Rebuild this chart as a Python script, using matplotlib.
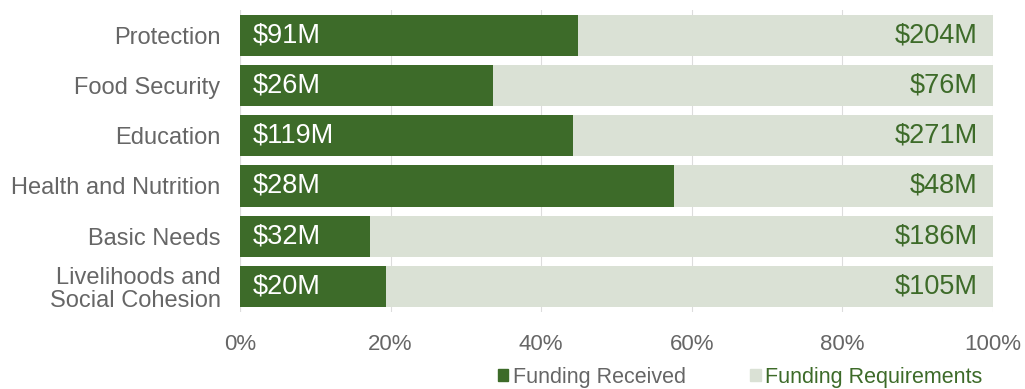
import numpy as np
import matplotlib.pyplot as plt

plt.rcParams['font.family'] = ['Liberation Sans', 'DejaVu Sans']

# data
sectors = ['Protection', 'Food Security', 'Education', 'Health and Nutrition',
           'Basic Needs', 'Livelihoods and\nSocial Cohesion']
received = ['$91M', '$26M', '$119M', '$28M', '$32M', '$20M']
requirements = ['$204M', '$76M', '$271M', '$48M', '$186M', '$105M']
funded_pct = [44.9, 33.6, 44.2, 57.6, 17.3, 19.4]
ticks = [0, 20, 40, 60, 80, 100]

dark = '#3d6b29'
light = '#dae1d5'
grey = '#666666'

fig = plt.figure(figsize=(10.25, 3.89), dpi=100)
ax = fig.add_axes([240/1025, 1 - 312/389, 753/1025, 302/389])

y = np.arange(len(sectors))
ax.barh(y, [100]*len(sectors), height=0.82, color=light, zorder=2)
ax.barh(y, funded_pct, height=0.82, color=dark, zorder=3)

for i in range(len(sectors)):
    ax.text(1.7, y[i], received[i], color='white', va='center', ha='left',
            fontsize=19.5, zorder=4)
    ax.text(98, y[i], requirements[i], color=dark, va='center', ha='right',
            fontsize=19.5, zorder=4)

ax.set_xlim(0, 100)
ax.set_ylim(5.508, -0.5)
ax.set_yticks(y)
ax.set_yticklabels(sectors, fontsize=17, color=grey, linespacing=1.08)
ax.set_xticks(ticks)
ax.set_xticklabels([f'{t}%' for t in ticks], fontsize=16, color=grey)
ax.tick_params(length=0)
ax.tick_params(axis='y', pad=14)
ax.tick_params(axis='x', pad=16)
ax.grid(axis='x', color='#dddddd', linewidth=0.8, zorder=1)
ax.axvline(0, color='#dddddd', linewidth=0.8, zorder=1)
for s in ax.spines.values():
    s.set_visible(False)

leg = fig.legend(handles=[plt.Rectangle((0, 0), 1, 1, color=dark),
                          plt.Rectangle((0, 0), 1, 1, color=light)],
                 labels=['Funding Received', 'Funding Requirements'],
                 loc='center', bbox_to_anchor=(740/1025, 1 - 377/389), ncol=2,
                 frameon=False, fontsize=15.5, handlelength=0.5, handleheight=0.5,
                 handletextpad=0.2, borderpad=0, columnspacing=3.0)
leg.get_texts()[0].set_color(grey)
leg.get_texts()[1].set_color(dark)

fig.savefig('out.png', dpi=100)
